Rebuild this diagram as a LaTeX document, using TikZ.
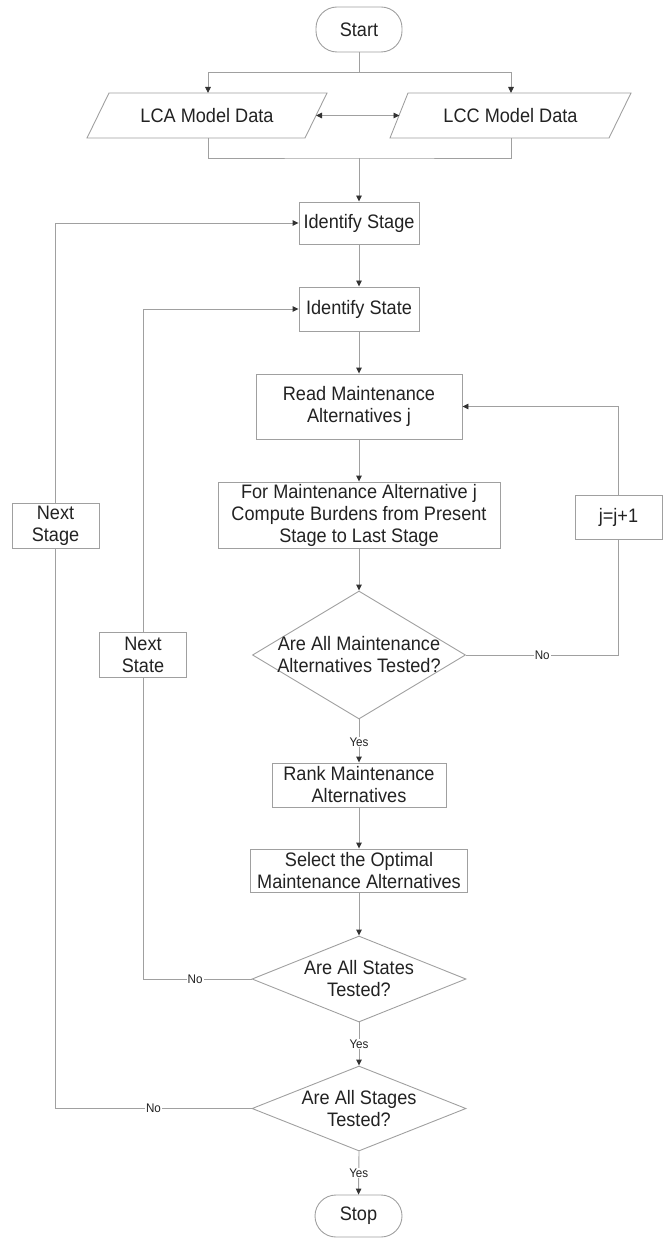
\documentclass[tikz,border=0pt]{standalone}
\usepackage{fontspec}
\setmainfont{Liberation Sans}[FakeStretch=0.93]
\usetikzlibrary{arrows.meta,shapes.geometric}
\definecolor{linegray}{HTML}{A0A0A0}
\definecolor{tipgray}{HTML}{333333}
\definecolor{txtgray}{HTML}{222222}
\newcommand{\mainfs}{\fontsize{19.5}{22}\selectfont}
\newcommand{\lblfs}{\fontsize{12.5}{14}\selectfont}
\begin{document}
\begin{tikzpicture}[x=1pt,y=-1pt,
  ln/.style={draw=linegray, line width=0.9pt},
  arr/.style={ln, -{Triangle[length=6pt,width=5.5pt,color=tipgray]}},
  dbl/.style={ln, {Triangle[length=6pt,width=5.5pt,color=tipgray]}-{Triangle[length=6pt,width=5.5pt,color=tipgray]}},
  txt/.style={inner sep=0pt, align=center, font=\mainfs, text=txtgray},
  box/.style={txt, draw=linegray, line width=0.9pt, rectangle},
  term/.style={box, rounded corners=21pt},
  dia/.style={draw=linegray, line width=0.9pt, diamond, inner sep=0pt},
  shp/.style={draw=linegray, line width=0.9pt},
  lbl/.style={fill=white, inner sep=1pt, font=\lblfs, text=txtgray}
]
\useasboundingbox (0,0) rectangle (665,1238);

% terminals
\node[term, minimum width=86pt, minimum height=45pt] (start) at (359,29.5) {Start};
\node[term, minimum width=87pt, minimum height=42pt] (stop) at (358.5,1216) {Stop};

% parallelograms
\draw[shp] (87,138) -- (305,138) -- (327,93) -- (109,93) -- cycle;
\node[txt] (lca) at (207,115.5) {LCA Model Data};
\draw[shp] (390,138) -- (609,138) -- (631,93) -- (408,93) -- cycle;
\node[txt] (lcc) at (510.5,115.5) {LCC Model Data};
\coordinate (lcaT) at (208,93);
\coordinate (lcaB) at (208,138);
\coordinate (lcaR) at (316,115.5);
\coordinate (lccT) at (511,93);
\coordinate (lccB) at (511,138);
\coordinate (lccL) at (399.5,115.5);
\coordinate (split) at (359,72);
\coordinate (merge) at (359,158);

% process boxes
\node[box, minimum width=120pt, minimum height=42pt] (stage) at (359,223) {Identify Stage};
\node[box, minimum width=120pt, minimum height=44pt] (state) at (359,309) {Identify State};
\node[box, minimum width=206pt, minimum height=65pt] (read) at (359,406.5) {Read Maintenance\\Alternatives j};
\node[box, minimum width=282pt, minimum height=66pt] (comp) at (359,515) {For Maintenance Alternative j\\Compute Burdens from Present\\Stage to Last Stage};
\node[dia, minimum width=213pt, minimum height=128pt] (d1) at (359,655) {};
\node[txt] at (d1) {Are All Maintenance\\Alternatives Tested?};
\node[box, minimum width=174pt, minimum height=44pt] (rank) at (359,785) {Rank Maintenance\\Alternatives};
\node[box, minimum width=217pt, minimum height=43pt] (sel) at (359,870.5) {Select the Optimal\\Maintenance Alternatives};
\node[dia, minimum width=214pt, minimum height=86pt] (d2) at (359,979) {};
\node[txt] at (d2) {Are All States\\Tested?};
\node[dia, minimum width=214pt, minimum height=85pt] (d3) at (359,1108.5) {};
\node[txt] at (d3) {Are All Stages\\Tested?};

% loop boxes
\node[box, minimum width=87pt, minimum height=45pt] (nstage) at (55.5,525.5) {Next\\Stage};
\node[box, minimum width=87pt, minimum height=45pt] (nstate) at (143,654.5) {Next\\State};
\node[box, minimum width=87pt, minimum height=44pt] (jbox) at (618.5,517) {j=j+1};
\coordinate (c1) at (618.5,655);
\coordinate (c2) at (143,979);
\coordinate (c3) at (55.5,1108.5);

% connectors top
\draw[ln] (start.south) -- (split);
\draw[arr] (split) -| (lcaT);
\draw[arr] (split) -| (lccT);
\draw[dbl] (lcaR) -- (lccL);
\draw[ln] (lcaB) |- (merge) -| (lccB);
\draw[arr] (merge) -- (stage.north);

% main column
\draw[arr] (stage.south) -- (state.north);
\draw[arr] (state.south) -- (read.north);
\draw[arr] (read.south) -- (comp.north);
\draw[arr] (comp.south) -- (d1.north);
\draw[arr] (d1.south) -- node[lbl, pos=0.52] {Yes} (rank.north);
\draw[arr] (rank.south) -- (sel.north);
\draw[arr] (sel.south) -- (d2.north);
\draw[arr] (d2.south) -- node[lbl, pos=0.5] {Yes} (d3.north);
\draw[arr] (d3.south) -- node[lbl, pos=0.5] {Yes} (stop.north);

% loops
\draw[ln] (d1.east) -- node[lbl, pos=0.5] {No} (c1) -- (jbox.south);
\draw[arr] (jbox.north) |- (read.east);
\draw[ln] (d2.west) -- node[lbl, pos=0.52] {No} (c2) -- (nstate.south);
\draw[arr] (nstate.north) |- (state.west);
\draw[ln] (d3.west) -- node[lbl, pos=0.5] {No} (c3) -- (nstage.south);
\draw[arr] (nstage.north) |- (stage.west);
\end{tikzpicture}
\end{document}
